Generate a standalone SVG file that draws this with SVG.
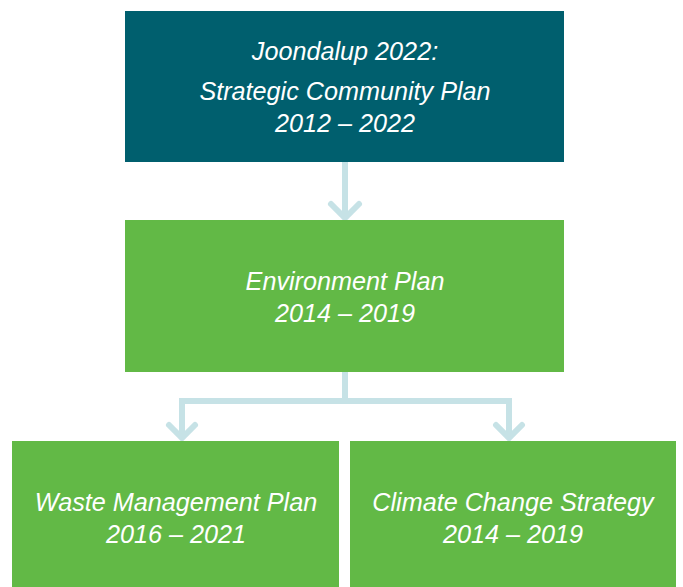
<svg xmlns="http://www.w3.org/2000/svg" width="683" height="587" viewBox="0 0 683 587">
  <defs>
    <style>
      .dark { fill: #005f6e; }
      .green { fill: #62b946; }
      .label { fill: #ffffff; font-family: "Liberation Sans", Arial, sans-serif; font-style: italic; font-size: 25.2px; text-anchor: middle; }
      .link { fill: none; stroke: #c6e2e6; stroke-width: 6; stroke-linecap: butt; }
      .head { fill: none; stroke: #c6e2e6; stroke-width: 6; stroke-linecap: round; stroke-linejoin: miter; }
    </style>
  </defs>
  <rect width="683" height="587" fill="#ffffff"/>

  <g id="connectors">
    <line class="link" x1="345" y1="162" x2="345" y2="216"/>
    <polyline class="head" points="331,204 345,218 359,204"/>
    <path class="link" d="M345,372 V401 M182,401 H509 M182,398 V437 M509,398 V437"/>
    <polyline class="head" points="169,425 182,438 195,425"/>
    <polyline class="head" points="496,425 509,438 522,425"/>
  </g>

  <g id="strategic-community-plan">
    <rect class="dark" x="125" y="11" width="439" height="151"/>
    <text class="label" x="345" y="60">Joondalup 2022:</text>
    <text class="label" x="345" y="100">Strategic Community Plan</text>
    <text class="label" x="345" y="132">2012 – 2022</text>
  </g>

  <g id="environment-plan">
    <rect class="green" x="125" y="220" width="439" height="152"/>
    <text class="label" x="345" y="290">Environment Plan</text>
    <text class="label" x="345" y="322">2014 – 2019</text>
  </g>

  <g id="waste-management-plan">
    <rect class="green" x="12" y="441" width="327" height="146"/>
    <text class="label" x="176" y="511">Waste Management Plan</text>
    <text class="label" x="176" y="543">2016 – 2021</text>
  </g>

  <g id="climate-change-strategy">
    <rect class="green" x="350" y="441" width="326" height="146"/>
    <text class="label" x="513" y="511">Climate Change Strategy</text>
    <text class="label" x="513" y="543">2014 – 2019</text>
  </g>
</svg>
